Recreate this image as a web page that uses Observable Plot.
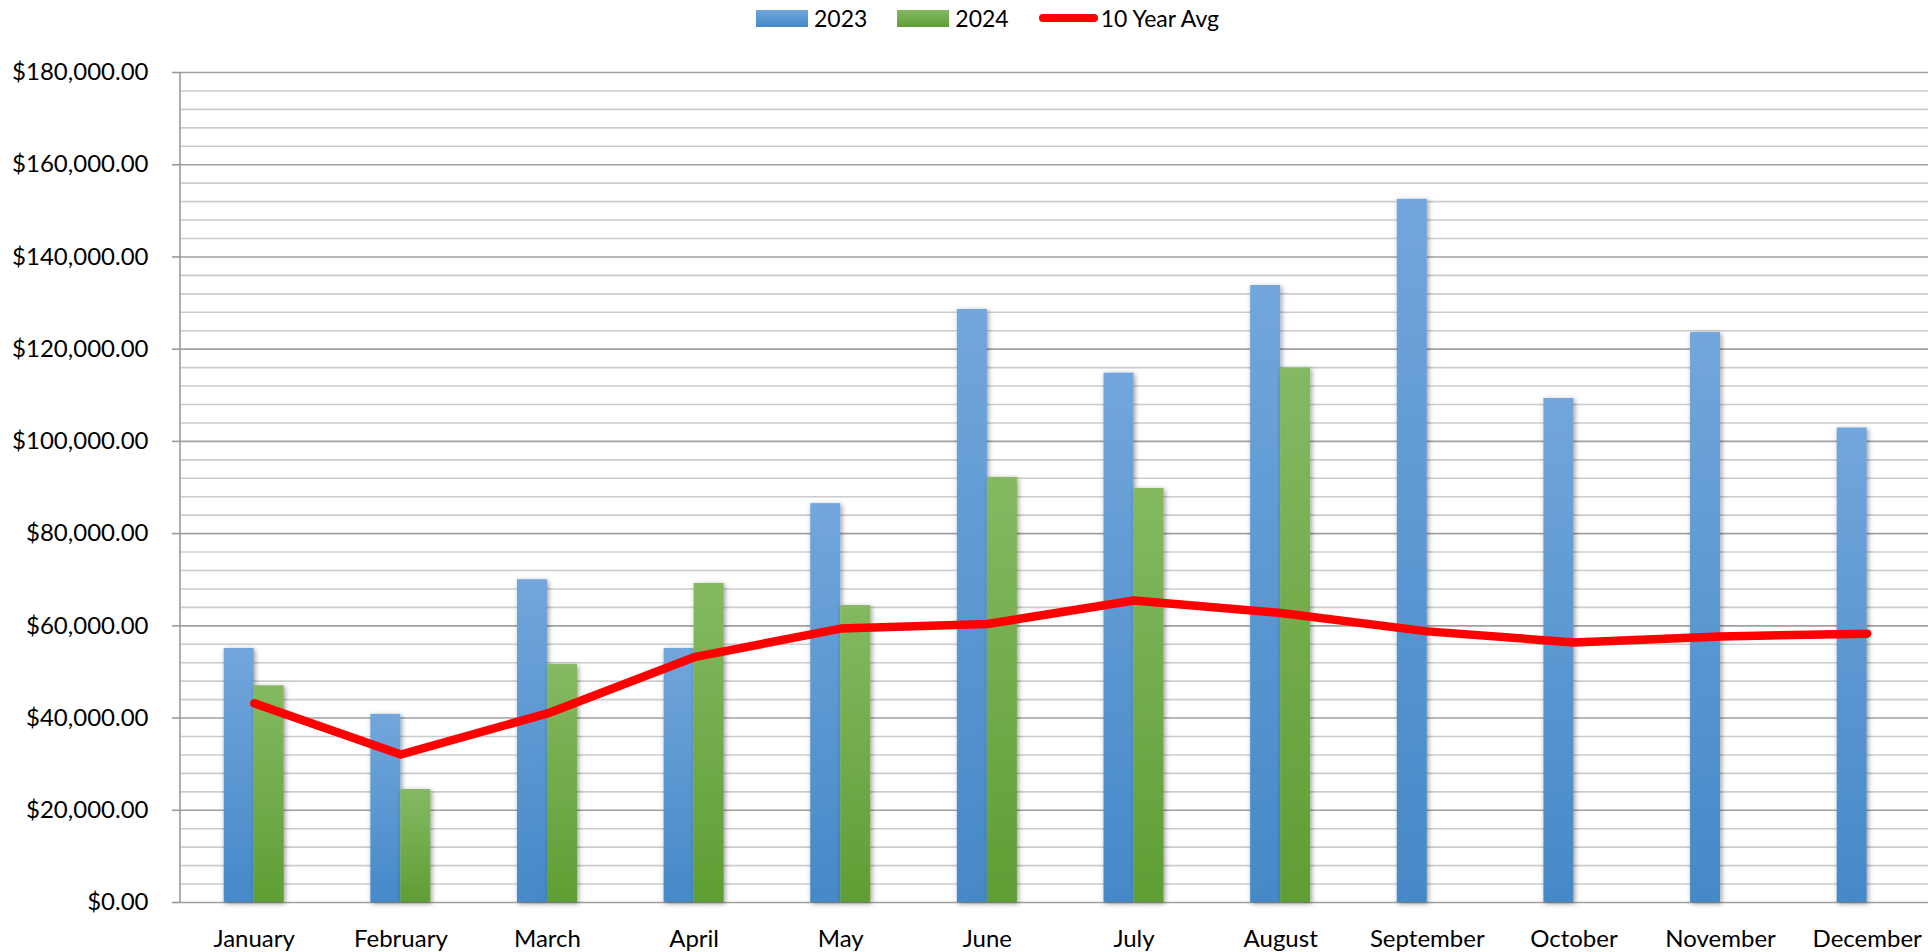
<!DOCTYPE html>
<html>
<head>
<meta charset="utf-8">
<script src="https://cdn.jsdelivr.net/npm/d3@7"></script>
<script src="https://cdn.jsdelivr.net/npm/@observablehq/plot@0.6"></script>
<style>
  html, body { margin: 0; padding: 0; background: #fff; overflow: hidden; }
  #legend { height: 36px; display: flex; justify-content: center; align-items: center;
            font-family: Lato, "Open Sans", sans-serif; font-size: 23px; color: #000; padding-left: 47px; }
  .item { display: flex; align-items: center; margin: 0 15px; }
  .sw { width: 52px; height: 17px; margin-right: 6px; }
  .ln { width: 59px; height: 8px; border-radius: 4px; background: #ff0000; margin-right: 3px; }
  #chart svg { display: block; }
</style>
</head>
<body>
<div id="legend"></div>
<div id="chart"></div>
<script>
const months = ["January","February","March","April","May","June","July","August","September","October","November","December"];
const sales2023 = [55100, 40800, 70000, 55100, 86500, 128600, 114800, 133800, 152500, 109300, 123600, 102900];
const sales2024 = [47000, 24500, 51600, 69200, 64400, 92200, 89800, 115900];
const avg10 = [43200, 32100, 41000, 53200, 59400, 60400, 65500, 62800, 58800, 56400, 57700, 58300];
const seriesNames = ["2023", "2024", "10 Year Avg"];
const majorTicks = d3.range(0, 180001, 20000);
const minorTicks = d3.range(0, 180001, 4000).filter(v => v % 20000 !== 0);

const rows = months.map((m, i) => ({month: m, v2023: sales2023[i], v2024: sales2024[i], avg: avg10[i]}));

const W = 1928, H = 916;
const xRange = [180.4, 1940];
const step = (xRange[1] - xRange[0]) / months.length;
const barW = 30;
const BLUE = "#5b9bd5", GREEN = "#70ad47";

// legend
const legend = d3.select("#legend");
const l1 = legend.append("div").attr("class", "item");
l1.append("div").attr("class", "sw").style("background", "linear-gradient(#72a6dc, #4589c8)");
l1.append("span").text(seriesNames[0]);
const l2 = legend.append("div").attr("class", "item");
l2.append("div").attr("class", "sw").style("background", "linear-gradient(#84b962, #5f9e34)");
l2.append("span").text(seriesNames[1]);
const l3 = legend.append("div").attr("class", "item");
l3.append("div").attr("class", "ln");
l3.append("span").text(seriesNames[2]);

const fmt = d => "$" + d3.format(",.2f")(d);

const chart = Plot.plot({
  width: W,
  height: H,
  marginLeft: 180,
  marginRight: 0,
  marginTop: 36,
  marginBottom: 50,
  style: {fontFamily: "Lato, 'Open Sans', sans-serif", fontSize: "24px", color: "#000", background: "#fff"},
  x: {type: "band", domain: months, range: xRange, padding: 0, round: false},
  y: {domain: [0, 180000]},
  marks: [
    Plot.ruleY(minorTicks, {stroke: "#cccccc", strokeWidth: 1.6}),
    Plot.ruleY(majorTicks, {stroke: "#a0a0a0", strokeWidth: 1.6}),
    Plot.barY(rows.filter(d => d.v2023 != null), {x: "month", y: "v2023", fill: BLUE,
      insetLeft: step / 2 - barW, insetRight: step / 2}),
    Plot.barY(rows.filter(d => d.v2024 != null), {x: "month", y: "v2024", fill: GREEN,
      insetLeft: step / 2, insetRight: step / 2 - barW}),
    Plot.line(rows, {x: "month", y: "avg", stroke: "#ff0000", strokeWidth: 8.5,
      strokeLinecap: "round", strokeLinejoin: "round"}),
    Plot.axisY(majorTicks, {tickFormat: fmt, tickSize: 8, tickPadding: 24, stroke: "#9a9a9a",
      strokeWidth: 1.6, fill: "#000", label: null}),
    Plot.axisX({tickSize: 0, tickPadding: 27, fill: "#000", label: null})
  ]
});

document.getElementById("chart").appendChild(chart);

// gradients + shadow + y axis line
const svg = d3.select(chart);
const defs = svg.insert("defs", ":first-child");
function grad(id, top, bottom) {
  const g = defs.append("linearGradient").attr("id", id).attr("x1", 0).attr("y1", 0).attr("x2", 0).attr("y2", 1);
  g.append("stop").attr("offset", "0%").attr("stop-color", top);
  g.append("stop").attr("offset", "100%").attr("stop-color", bottom);
}
grad("gBlue", "#72a6dc", "#4589c8");
grad("gGreen", "#84b962", "#5f9e34");
const f = defs.append("filter").attr("id", "shadow").attr("x", "-50%").attr("y", "-5%").attr("width", "200%").attr("height", "110%");
f.append("feDropShadow").attr("dx", 1.5).attr("dy", 1.5).attr("stdDeviation", 2.8)
  .attr("flood-color", "#000").attr("flood-opacity", 0.4);

svg.selectAll("g").filter(function() { return this.getAttribute("fill") === BLUE; })
  .attr("fill", "url(#gBlue)").selectAll("rect").attr("filter", "url(#shadow)");
svg.selectAll("g").filter(function() { return this.getAttribute("fill") === GREEN; })
  .attr("fill", "url(#gGreen)").selectAll("rect").attr("filter", "url(#shadow)");

// vertical y-axis line at the frame's left edge, from the scales
const ys = chart.scale("y");
const xLeft = Math.floor(chart.scale("x").range[0]);
svg.append("line")
  .attr("x1", xLeft).attr("x2", xLeft)
  .attr("y1", ys.apply(ys.domain[1])).attr("y2", ys.apply(ys.domain[0]))
  .attr("stroke", "#9a9a9a").attr("stroke-width", 1.6);
</script>
</body>
</html>
